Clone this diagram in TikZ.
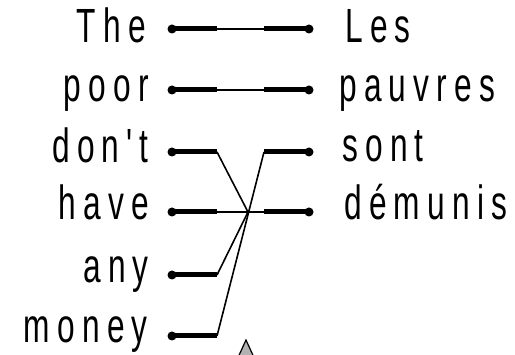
\documentclass[tikz,border=0pt]{standalone}
\usepackage{fontspec}
\newfontfamily\wordfont[FakeStretch=0.66,LetterSpace=15]{Liberation Sans}
\begin{document}
\begin{tikzpicture}[x=1pt,y=-1pt,
  word/.style={font=\wordfont\fontsize{48}{48}\selectfont,inner sep=0pt},
  dot/.style={circle,fill,inner sep=0pt,minimum size=9pt},
  stub/.style={line width=5pt},
  link/.style={line width=1.6pt}]
\useasboundingbox (0,0) rectangle (515,355);
\clip (0,0) rectangle (515,355);
% English words
\node[word,anchor=base east] (e1) at (146,43) {The};
\node[word,anchor=base east] (e2) at (149,102) {poor};
\node[word,anchor=base east] (e3) at (149,163) {don't};
\node[word,anchor=base east] (e4) at (149,220) {have};
\node[word,anchor=base east] (e5) at (149,283) {any};
\node[word,anchor=base east] (e6) at (148,343) {money};
% French words
\node[word,anchor=base west] (f1) at (345,43) {Les};
\node[word,anchor=base west] (f2) at (339,102) {pauvres};
\node[word,anchor=base west] (f3) at (342,162) {sont};
\node[word,anchor=base west] (f4) at (344,220) {démunis};
% left dots and stubs
\node[dot] (ld1) at (172,29) {}; \coordinate (ls1) at (217,29);
\node[dot] (ld2) at (172,90) {}; \coordinate (ls2) at (217,90);
\node[dot] (ld3) at (172,152) {}; \coordinate (ls3) at (217,152);
\node[dot] (ld4) at (172,212) {}; \coordinate (ls4) at (217,212);
\node[dot] (ld5) at (172,275) {}; \coordinate (ls5) at (217,275);
\node[dot] (ld6) at (172,336) {}; \coordinate (ls6) at (217,336);
\draw[stub] (ld1.center)--(ls1); \draw[stub] (ld2.center)--(ls2); \draw[stub] (ld3.center)--(ls3);
\draw[stub] (ld4.center)--(ls4); \draw[stub] (ld5.center)--(ls5); \draw[stub] (ld6.center)--(ls6);
% right dots and stubs
\node[dot] (rd1) at (309,29) {}; \coordinate (rs1) at (264,29);
\node[dot] (rd2) at (309,90) {}; \coordinate (rs2) at (264,90);
\node[dot] (rd3) at (309,152) {}; \coordinate (rs3) at (264,152);
\node[dot] (rd4) at (309,212) {}; \coordinate (rs4) at (264,212);
\draw[stub] (rs1)--(rd1.center); \draw[stub] (rs2)--(rd2.center);
\draw[stub] (rs3)--(rd3.center); \draw[stub] (rs4)--(rd4.center);
% alignment links
\coordinate (jn) at (248,212);
\draw[line width=1.1pt] (ls1)--(rs1); \draw[line width=1.1pt] (ls2)--(rs2);
\draw[line width=1.1pt] (ls4)--(rs4);
\draw[link] (ls3)--(jn); \draw[link] (ls5)--(jn);
\draw[link] (ls6)--(rs3);
% pointer
\draw[fill=gray!60,line width=1.2pt] (246,340)--(257,364)--(235,364)--cycle;
\end{tikzpicture}
\end{document}
